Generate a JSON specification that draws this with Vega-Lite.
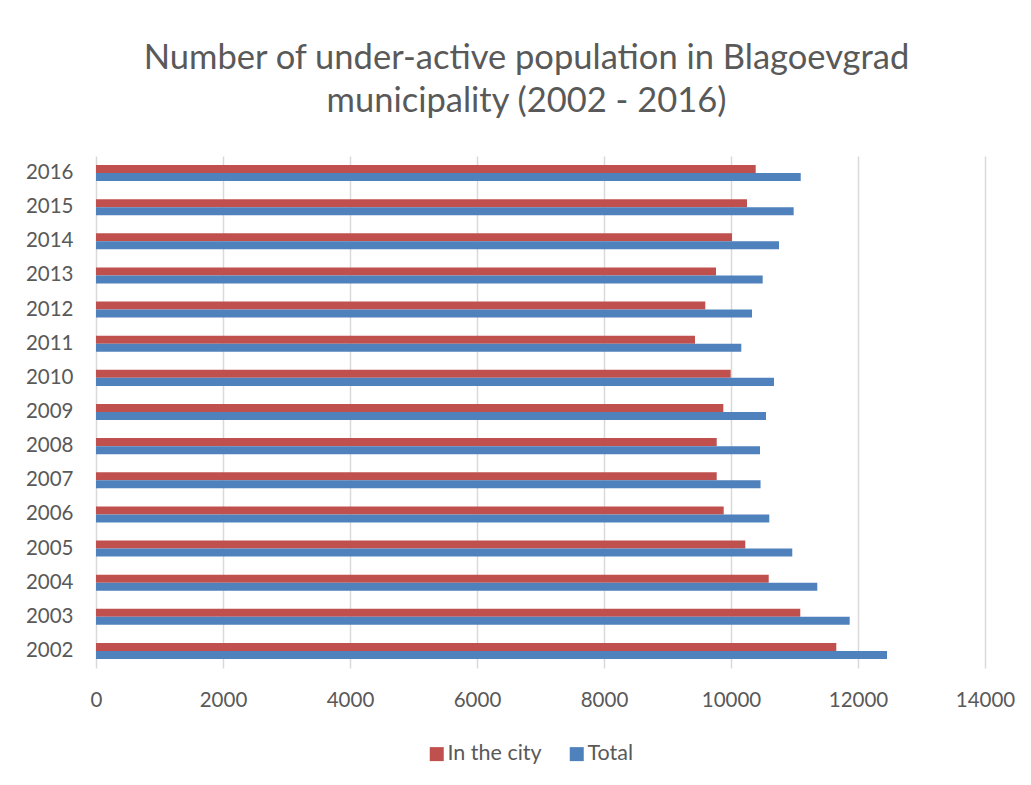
{
  "$schema": "https://vega.github.io/schema/vega-lite/v6.json",
  "autosize": {"type": "none"},
  "width": 889,
  "height": 512,
  "padding": {"left": 96, "top": 156, "right": 46, "bottom": 117},
  "background": "white",
  "config": {
    "view": {"stroke": null},
    "font": "Lato"
  },
  "title": {
    "text": ["Number of under-active population in Blagoevgrad", "municipality (2002 - 2016)"],
    "fontSize": 34.5,
    "font": "Lato",
    "fontWeight": "normal",
    "color": "#595959",
    "anchor": "middle",
    "dx": -14,
    "lineHeight": 43,
    "offset": 37
  },
  "data": {
    "values": [
      {"year": "2016", "series": "In the city", "value": 10389},
      {"year": "2016", "series": "Total", "value": 11098},
      {"year": "2015", "series": "In the city", "value": 10252},
      {"year": "2015", "series": "Total", "value": 10987},
      {"year": "2014", "series": "In the city", "value": 10016},
      {"year": "2014", "series": "Total", "value": 10756},
      {"year": "2013", "series": "In the city", "value": 9764},
      {"year": "2013", "series": "Total", "value": 10499},
      {"year": "2012", "series": "In the city", "value": 9595},
      {"year": "2012", "series": "Total", "value": 10331},
      {"year": "2011", "series": "In the city", "value": 9433},
      {"year": "2011", "series": "Total", "value": 10162},
      {"year": "2010", "series": "In the city", "value": 9995},
      {"year": "2010", "series": "Total", "value": 10677},
      {"year": "2009", "series": "In the city", "value": 9879},
      {"year": "2009", "series": "Total", "value": 10551},
      {"year": "2008", "series": "In the city", "value": 9775},
      {"year": "2008", "series": "Total", "value": 10457},
      {"year": "2007", "series": "In the city", "value": 9775},
      {"year": "2007", "series": "Total", "value": 10465},
      {"year": "2006", "series": "In the city", "value": 9885},
      {"year": "2006", "series": "Total", "value": 10603},
      {"year": "2005", "series": "In the city", "value": 10225},
      {"year": "2005", "series": "Total", "value": 10965},
      {"year": "2004", "series": "In the city", "value": 10594},
      {"year": "2004", "series": "Total", "value": 11359},
      {"year": "2003", "series": "In the city", "value": 11091},
      {"year": "2003", "series": "Total", "value": 11869},
      {"year": "2002", "series": "In the city", "value": 11658},
      {"year": "2002", "series": "Total", "value": 12457}
    ]
  },
  "mark": {"type": "bar"},
  "encoding": {
    "y": {
      "field": "year",
      "type": "nominal",
      "sort": "descending",
      "scale": {"paddingInner": 0.53, "paddingOuter": 0.265},
      "axis": {
        "title": null,
        "domain": false,
        "ticks": false,
        "grid": false,
        "labelFontSize": 20.5,
        "labelFont": "Lato",
        "labelColor": "#595959",
        "labelPadding": 23
      }
    },
    "yOffset": {
      "field": "series",
      "type": "nominal",
      "sort": ["In the city", "Total"],
      "scale": {"paddingInner": 0, "paddingOuter": 0}
    },
    "x": {
      "field": "value",
      "type": "quantitative",
      "scale": {"domain": [0, 14000], "nice": false},
      "axis": {
        "title": null,
        "values": [0, 2000, 4000, 6000, 8000, 10000, 12000, 14000],
        "format": "d",
        "domain": false,
        "ticks": false,
        "grid": true,
        "gridColor": "#D9D9D9",
        "gridWidth": 1.5,
        "labelFontSize": 20.5,
        "labelFont": "Lato",
        "labelColor": "#595959",
        "labelPadding": 22,
        "labelFlush": false
      }
    },
    "color": {
      "field": "series",
      "type": "nominal",
      "scale": {"domain": ["In the city", "Total"], "range": ["#C0504D", "#4F81BD"]},
      "legend": {
        "title": null,
        "orient": "none",
        "legendX": 330,
        "legendY": 587,
        "direction": "horizontal",
        "symbolType": "square",
        "symbolSize": 196,
        "symbolStrokeWidth": 0,
        "labelFontSize": 21.5,
        "labelFont": "Lato",
        "labelColor": "#595959",
        "labelOffset": 0,
        "columnPadding": 24
      }
    }
  }
}
